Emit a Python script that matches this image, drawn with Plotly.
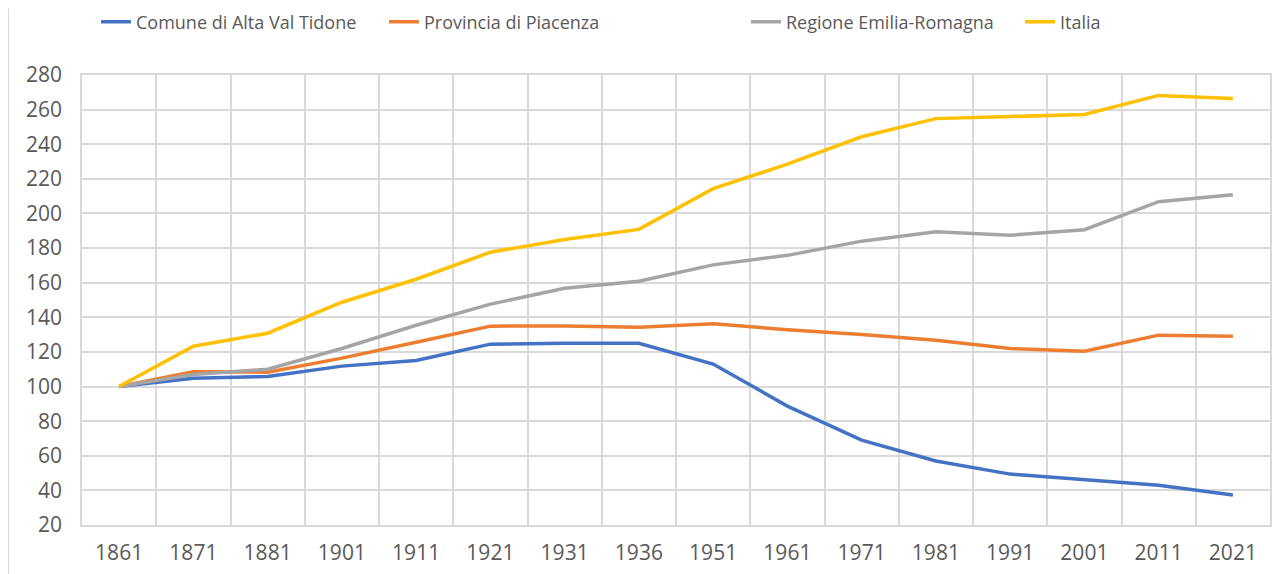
import plotly.graph_objects as go

years = ["1861", "1871", "1881", "1901", "1911", "1921", "1931", "1936",
         "1951", "1961", "1971", "1981", "1991", "2001", "2011", "2021"]

comune = [100, 104.8, 105.8, 111.8, 115, 124.5, 125, 125,
          113, 88.7, 69, 57, 49.4, 46, 43, 37.3]
provincia = [100, 108.6, 108.3, 116.4, 125.6, 134.9, 135, 134.3,
             136.3, 132.8, 130, 126.8, 122, 120.4, 129.7, 129.1]
regione = [100, 107, 110, 122, 135.4, 147.6, 156.8, 160.8,
           170.3, 175.8, 184, 189.4, 187.4, 190.6, 206.8, 210.8]
italia = [100, 123.3, 130.8, 148.7, 162, 177.6, 185, 190.8,
          214.3, 228.5, 244.3, 254.8, 256, 257.2, 268.2, 266.4]

series_names = ["Comune di Alta Val Tidone", "Provincia di Piacenza",
                "Regione Emilia-Romagna", "Italia"]
series_values = [comune, provincia, regione, italia]
colors = ["#4472C4", "#ED7D31", "#A5A5A5", "#FFC000"]
legend_ids = ["legend", "legend2", "legend3", "legend4"]
legend_x_px = [88, 376, 738, 1012]

W, H = 1282, 574

fig = go.Figure()
for name, vals, col, lg in zip(series_names, series_values, colors, legend_ids):
    fig.add_trace(go.Scatter(x=years, y=vals, mode="lines", name=name,
                             line=dict(color=col, width=3.5), legend=lg))

legend_common = dict(orientation="h", xref="container", yref="container",
                     xanchor="left", yanchor="middle", y=1 - 14 / H,
                     font=dict(size=18, color="#595959"),
                     bgcolor="rgba(0,0,0,0)")
layout_legends = {}
for lg, xp in zip(legend_ids, legend_x_px):
    layout_legends[lg] = dict(legend_common, x=xp / W)

fig.update_layout(
    width=W, height=H,
    margin=dict(l=74, r=20, t=66.5, b=57, autoexpand=False),
    paper_bgcolor="white", plot_bgcolor="white",
    font=dict(family="Open Sans", color="#595959", size=20),
    showlegend=True,
    xaxis=dict(type="category", tickson="boundaries", showgrid=True,
               gridcolor="#d9d9d9", gridwidth=1.5, ticks="", showline=True,
               linecolor="#d9d9d9", linewidth=1.5, mirror=True, automargin=False,
               ticklabelstandoff=8, tickfont=dict(size=21),
               range=[-0.5, len(years) - 0.5]),
    yaxis=dict(range=[20, 280], dtick=20, tick0=20, showgrid=True,
               gridcolor="#d9d9d9", gridwidth=1.5, ticks="", zeroline=False,
               showline=True, linecolor="#d9d9d9", linewidth=1.5, mirror=True,
               automargin=False, ticklabelstandoff=14, tickfont=dict(size=21)),
    **layout_legends,
)

fig.add_shape(type="line", xref="paper", yref="paper",
              x0=-74 / 1188, x1=-74 / 1188,
              y0=-57 / 450.5, y1=1 + 66.5 / 450.5,
              line=dict(color="#d9d9d9", width=2))

fig.write_html("out.html")
